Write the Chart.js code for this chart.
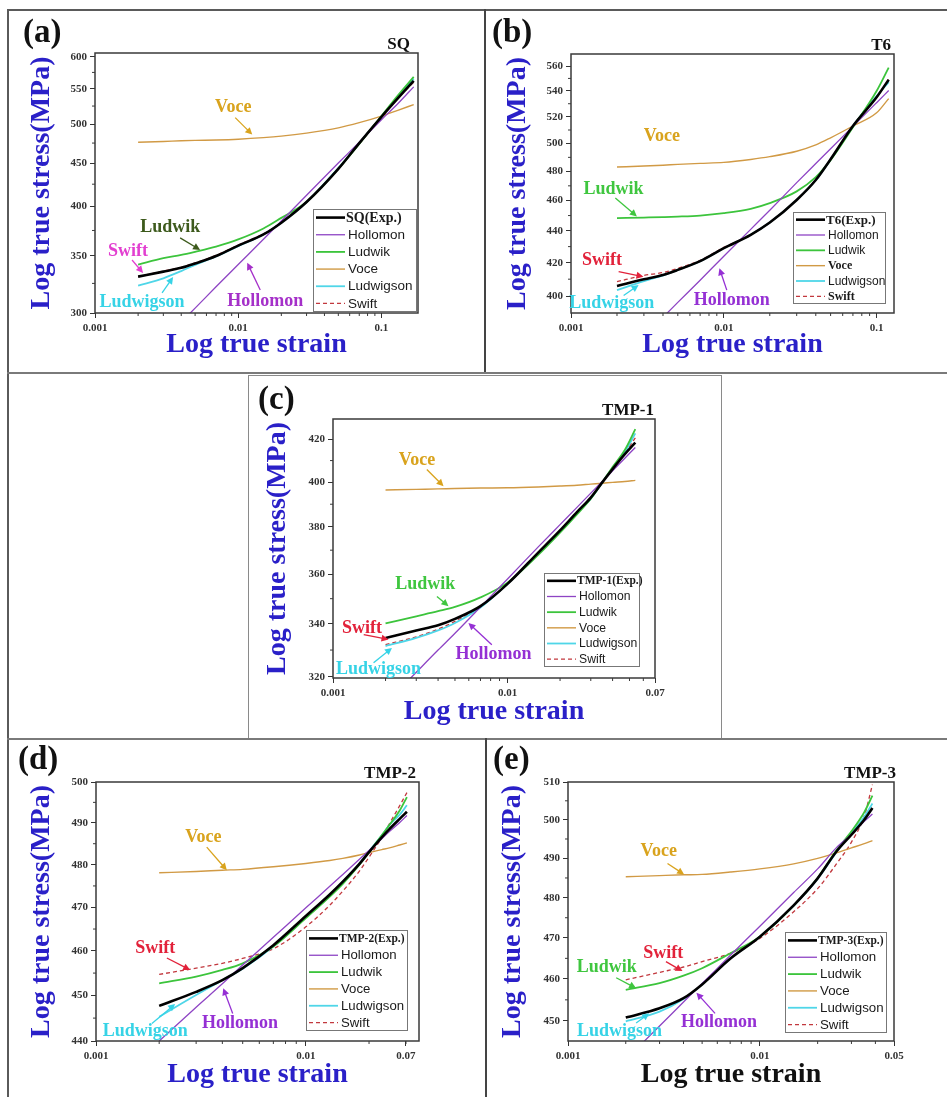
<!DOCTYPE html>
<html>
<head>
<meta charset="utf-8">
<script src="https://cdn.jsdelivr.net/npm/chart.js@4.4.1/dist/chart.umd.min.js"></script>
<style>
body{margin:0;background:#fff;}
#page{position:relative;width:947px;height:1097px;overflow:hidden;background:#fff;}
.ln{position:absolute;background:#5a5a5a;}
#boxC{position:absolute;left:248px;top:375px;width:472px;height:362px;border:1.5px solid #8a8a8a;border-bottom:none;}
canvas{position:absolute;}
</style>
</head>
<body>
<div id="page">
  <div class="ln" style="left:7px;top:9px;width:2px;height:1088px"></div>
  <div class="ln" style="left:7px;top:9px;width:940px;height:2px"></div>
  <div class="ln" style="left:484px;top:9px;width:2px;height:364px;background:#444"></div>
  <div class="ln" style="left:7px;top:372px;width:940px;height:2px;background:#7a7a7a"></div>
  <div id="boxC"></div>
  <div class="ln" style="left:7px;top:738px;width:940px;height:2px;background:#7a7a7a"></div>
  <div class="ln" style="left:485px;top:738px;width:2px;height:359px;background:#444"></div>

  <canvas id="cA" width="470" height="356" style="left:10px;top:12px"></canvas>
  <canvas id="cB" width="455" height="356" style="left:488px;top:12px"></canvas>
  <canvas id="cC" width="468" height="358" style="left:250px;top:377px"></canvas>
  <canvas id="cD" width="470" height="353" style="left:10px;top:742px"></canvas>
  <canvas id="cE" width="455" height="353" style="left:490px;top:742px"></canvas>
</div>
<script>
//DATA

//(a) SQ
var strainSQ = [0.002, 0.003, 0.004, 0.005, 0.007, 0.01, 0.015, 0.02, 0.03, 0.05, 0.07, 0.1, 0.13, 0.168];
var expSQ = [331, 335.5, 339, 343, 350, 360, 371, 383, 405, 443, 475, 510, 536, 562];
var hollomonSQ = [260, 278.7, 292.7, 304, 322, 342, 366.2, 384.7, 412.4, 450, 476, 506, 528.3, 553];
var ludwikSQ = [342, 348, 351, 354, 359, 366, 377, 388, 405, 443, 474, 511, 540, 568];
var voceSQ = [476, 477, 478, 478.5, 479, 480, 482, 484, 488, 495, 502, 511, 519, 527];
var ludwigsonSQ = [323, 329.5, 336, 341.7, 349.5, 359.5, 371, 383, 405, 444, 475, 510, 538, 565];
var swiftSQ = [331, 336, 339.5, 343.5, 350.5, 360.5, 371.5, 383.5, 405, 444, 474, 509, 536, 560];
var stressTicksSQ = [300, 350, 400, 450, 500, 550, 600];
var strainTicksSQ = [0.001, 0.01, 0.1];
var strainLabelsSQ = ['0.001', '0.01', '0.1'];

//(b) T6
var strainT6 = [0.002, 0.003, 0.004, 0.005, 0.007, 0.01, 0.015, 0.02, 0.03, 0.04, 0.05, 0.07, 0.1, 0.12];
var expT6 = [405.9, 409.9, 412.5, 415.6, 421, 429, 437.5, 445.4, 460.4, 474, 488.6, 513, 535, 549];
var hollomonT6 = [362.6, 377.1, 387.8, 396.3, 409.4, 424, 441, 453.5, 472.2, 485.6, 496.2, 512.7, 530.8, 540.3];
var ludwikT6 = [448.3, 448.7, 449, 449.3, 450, 451.6, 454.5, 458.3, 466.2, 476, 488, 512, 540, 558.8];
var voceT6 = [483.1, 483.8, 484.4, 485, 485.7, 486.4, 488.5, 490.5, 494.4, 499, 504.2, 513, 523, 534];
var ludwigsonT6 = [403.5, 408.8, 412.3, 415.6, 421, 429, 437.5, 445.4, 460.4, 474, 488.5, 513, 536, 547];
var swiftT6 = [408.5, 412.3, 414, 416.5, 421.5, 429.5, 437.5, 445.4, 460.4, 474, 488.6, 513, 535, 549];
var stressTicksT6 = [400, 420, 440, 460, 480, 500, 520, 540, 560];
var strainTicksT6 = [0.001, 0.01, 0.1];
var strainLabelsT6 = ['0.001', '0.01', '0.1'];

//(c) TMP-1
var strainTMP1 = [0.002, 0.003, 0.004, 0.005, 0.007, 0.01, 0.015, 0.02, 0.025, 0.03, 0.035, 0.04, 0.047, 0.054];
var expTMP1 = [334.6, 337.5, 339.5, 342, 347, 356, 369, 378.5, 386.5, 393, 400, 406, 413, 418.5];
var hollomonTMP1 = [310.3, 321.7, 330, 336.4, 346.7, 358, 371.4, 381, 388.6, 395, 400.4, 405.2, 411.1, 416.2];
var ludwikTMP1 = [340.2, 343, 345, 346.7, 350.5, 356.5, 368, 377.5, 385.5, 392.5, 400, 407, 415, 425];
var voceTMP1 = [396.4, 396.7, 396.9, 397.1, 397.3, 397.4, 397.8, 398.2, 398.6, 399.1, 399.5, 399.9, 400.3, 400.8];
var ludwigsonTMP1 = [331.5, 334.6, 337.5, 340.4, 346.5, 356, 368.5, 378, 386, 392.5, 400, 406.5, 414, 423];
var swiftTMP1 = [332.1, 335, 338, 341, 346.8, 356, 369, 378.5, 386.5, 393, 400, 406, 413.5, 420.8];
var stressTicksTMP1 = [320, 340, 360, 380, 400, 420];
var strainTicksTMP1 = [0.001, 0.01, 0.07];
var strainLabelsTMP1 = ['0.001', '0.01', '0.07'];

//(d) TMP-2  (the source axis is not log-uniform past 0.01: its last tick sits where 0.03 would be, printed 0.07)
var strainTMP2 = [0.002, 0.003, 0.004, 0.005, 0.007, 0.01, 0.013, 0.015, 0.018, 0.02, 0.023, 0.025, 0.028, 0.0303];
var expTMP2 = [447.7, 450.8, 453.4, 456.1, 461.3, 468, 473, 476, 480.2, 483, 486.5, 488.5, 491, 492.7];
var hollomonTMP2 = [440, 447.4, 452.6, 456.8, 463.1, 469.9, 474.9, 477.7, 481.3, 483.4, 486.2, 487.9, 490.1, 491.8];
var ludwikTMP2 = [452.7, 454.2, 455.7, 457.2, 461, 467.5, 472.5, 475.5, 480, 483, 487, 489.5, 493, 496.3];
var voceTMP2 = [478.1, 478.4, 478.7, 478.9, 479.5, 480.3, 481, 481.5, 482.3, 482.9, 483.6, 484, 484.7, 485.2];
var ludwigsonTMP2 = [445.3, 450.1, 453.4, 456, 461, 467.8, 473, 476, 480.3, 483.2, 487, 489.5, 492, 494.3];
var swiftTMP2 = [454.7, 456.1, 457.2, 458.3, 460.5, 465.5, 470.5, 473.8, 478.5, 481.8, 486.5, 489.8, 494.2, 497.4];
var stressTicksTMP2 = [440, 450, 460, 470, 480, 490, 500];
var strainTicksTMP2 = [0.001, 0.01, 0.03];
var strainLabelsTMP2 = ['0.001', '0.01', '0.07'];

//(e) TMP-3
var strainTMP3 = [0.002, 0.003, 0.004, 0.005, 0.007, 0.01, 0.015, 0.02, 0.025, 0.03, 0.035, 0.0386];
var expTMP3 = [450.8, 453, 455.4, 458.7, 464.9, 470.3, 478.1, 484.9, 491.7, 496.1, 500, 503.1];
var hollomonTMP3 = [441, 448.8, 454.5, 458.9, 465.7, 472.9, 481.3, 487.3, 492.7, 496.2, 499.6, 501.5];
var ludwikTMP3 = [457.4, 459, 460.8, 462.6, 466.2, 470.3, 478, 485, 492, 497, 502, 506.4];
var voceTMP3 = [485.3, 485.6, 485.8, 485.9, 486.5, 487.3, 488.6, 490, 491.4, 492.7, 493.8, 494.6];
var ludwigsonTMP3 = [449.9, 452.2, 455.2, 458.7, 464.9, 470.3, 478, 484.8, 491.5, 496.5, 500.8, 504.3];
var swiftTMP3 = [459.8, 461.6, 462.9, 464.2, 466.2, 469.9, 476.5, 482.3, 488.5, 494.2, 501, 509.3];
var stressTicksTMP3 = [450, 460, 470, 480, 490, 500, 510];
var strainTicksTMP3 = [0.001, 0.01, 0.05];
var strainLabelsTMP3 = ['0.001', '0.01', '0.05'];

var modelNames = ['Hollomon', 'Ludwik', 'Voce', 'Ludwigson', 'Swift'];

//STYLE
var modelColors = ['#8e44c4', '#3cc43c', '#d19a45', '#4fd6e8', '#c2383e'];
var modelWidths = [1.3, 1.8, 1.4, 1.8, 1.3];
var SERIF = '"Liberation Serif", "Times New Roman", serif';
var SANS = '"Liberation Sans", Arial, sans-serif';
var TITLE_BLUE = '#2a20c8';
var C_VOCE = '#d9a31d', C_LUDWIK = '#3fc63f', C_SWIFT = '#e2223a', C_LUDWIGSON = '#36d3e6', C_HOLLOMON = '#9530d4';

Chart.defaults.font.family = SERIF;
Chart.defaults.color = '#222';

var panels = [
    {
        id: 'cA', letter: '(a)', letterAt: [13, 30], name: 'SQ', nameDx: -8,
        strain: strainSQ, exp: expSQ, models: [hollomonSQ, ludwikSQ, voceSQ, ludwigsonSQ, swiftSQ],
        yTicks: stressTicksSQ, yMin: 300, yMax: 606,
        xTicks: strainTicksSQ, xLabels: strainLabelsSQ, xMax: 0.18,
        yAxisW: 85, xAxisH: 55, padTop: 41, padRight: 62, yTitlePad: 18, xTitlePad: 9, xTitleColor: TITLE_BLUE,
        legend: {r: 1, b: 1, w: 104, h: 103, head: 14, fs: 13.5, bold: []},
        notes: [
            {t: 'Voce', c: C_VOCE, at: [0.00923, 522.6], from: [0.00953, 508.8], to: [0.01253, 486]},
            {t: 'Ludwik', c: '#3d5a1c', at: [0.00335, 378.6], from: [0.00393, 367.6], to: [0.00542, 355.8]},
            {t: 'Swift', c: '#e23fd0', at: [0.0017, 354.9], from: [0.001814, 346.2], to: [0.002166, 334.3]},
            {t: 'Ludwigson', c: C_LUDWIGSON, at: [0.00213, 309], from: [0.00294, 316.7], to: [0.00351, 330.7]},
            {t: 'Hollomon', c: '#a530c9', at: [0.01545, 309.8], from: [0.01425, 319.3], to: [0.01156, 343.6]}
        ]
    },
    {
        id: 'cB', letter: '(b)', letterAt: [4, 30], name: 'T6', nameDx: -3,
        strain: strainT6, exp: expT6, models: [hollomonT6, ludwikT6, voceT6, ludwigsonT6, swiftT6],
        yTicks: stressTicksT6, yMin: 390.2, yMax: 570,
        xTicks: strainTicksT6, xLabels: strainLabelsT6, xMax: 0.13,
        yAxisW: 83, xAxisH: 55, padTop: 42, padRight: 49, yTitlePad: 16, xTitlePad: 9, xTitleColor: TITLE_BLUE,
        legend: {r: 8, b: 9, w: 93, h: 92, head: 13, fs: 12, bold: [3, 5]},
        notes: [
            {t: 'Voce', c: C_VOCE, at: [0.00393, 505.3]},
            {t: 'Ludwik', c: C_LUDWIK, at: [0.0019, 467.8], from: [0.00195, 461.7], to: [0.0027, 449.4]},
            {t: 'Swift', c: C_SWIFT, at: [0.001595, 421.7], from: [0.00205, 414.5], to: [0.00298, 411.5]},
            {t: 'Ludwigson', c: C_LUDWIGSON, at: [0.00185, 395.7], from: [0.00221, 400.3], to: [0.00277, 406.5]},
            {t: 'Hollomon', c: C_HOLLOMON, at: [0.01128, 397.7], from: [0.01046, 403.5], to: [0.00936, 416.6]}
        ]
    },
    {
        id: 'cC', letter: '(c)', letterAt: [8, 32], name: 'TMP-1', nameDx: -1,
        strain: strainTMP1, exp: expTMP1, models: [hollomonTMP1, ludwikTMP1, voceTMP1, ludwigsonTMP1, swiftTMP1],
        yTicks: stressTicksTMP1, yMin: 319.6, yMax: 430,
        xTicks: strainTicksTMP1, xLabels: strainLabelsTMP1, xMax: 0.07,
        yAxisW: 83, xAxisH: 57, padTop: 42, padRight: 63, yTitlePad: 14, xTitlePad: 9, xTitleColor: TITLE_BLUE,
        legend: {r: 15, b: 11, w: 96, h: 94, head: 11.5, fs: 12.2, bold: []},
        notes: [
            {t: 'Voce', c: C_VOCE, at: [0.00303, 410.1], from: [0.00345, 405.8], to: [0.0043, 398.1]},
            {t: 'Ludwik', c: C_LUDWIK, at: [0.00338, 355.7], from: [0.00394, 350.9], to: [0.00459, 347]},
            {t: 'Swift', c: C_SWIFT, at: [0.001466, 338.5], from: [0.0015, 335.9], to: [0.00208, 334]},
            {t: 'Ludwigson', c: C_LUDWIGSON, at: [0.001824, 322.9], from: [0.001708, 325.2], to: [0.002177, 330.8]},
            {t: 'Hollomon', c: C_HOLLOMON, at: [0.0083, 328.3], from: [0.00813, 332], to: [0.00597, 340.4]}
        ]
    },
    {
        id: 'cD', letter: '(d)', letterAt: [8, 27], name: 'TMP-2', nameDx: -3,
        strain: strainTMP2, exp: expTMP2, models: [hollomonTMP2, ludwikTMP2, voceTMP2, ludwigsonTMP2, swiftTMP2],
        yTicks: stressTicksTMP2, yMin: 440, yMax: 500,
        xTicks: strainTicksTMP2, xLabels: strainLabelsTMP2, xMax: 0.0346,
        yAxisW: 86, xAxisH: 54, padTop: 40, padRight: 61, yTitlePad: 18, xTitlePad: 6, xTitleColor: TITLE_BLUE,
        legend: {r: 11, b: 10, w: 102, h: 101, head: 11.5, fs: 13.2, bold: []},
        notes: [
            {t: 'Voce', c: C_VOCE, at: [0.00325, 486.6], from: [0.00337, 484.2], to: [0.0042, 478.7]},
            {t: 'Swift', c: C_SWIFT, at: [0.001914, 460.6], from: [0.002176, 458.4], to: [0.00281, 455.7]},
            {t: 'Ludwigson', c: C_LUDWIGSON, at: [0.001716, 442.2], from: [0.001846, 443.8], to: [0.002383, 448.1]},
            {t: 'Hollomon', c: C_HOLLOMON, at: [0.00486, 443.8], from: [0.00448, 446], to: [0.00404, 451.6]}
        ]
    },
    {
        id: 'cE', letter: '(e)', letterAt: [3, 27], name: 'TMP-3', nameDx: 2,
        strain: strainTMP3, exp: expTMP3, models: [hollomonTMP3, ludwikTMP3, voceTMP3, ludwigsonTMP3, swiftTMP3],
        yTicks: stressTicksTMP3, yMin: 445.3, yMax: 510,
        xTicks: strainTicksTMP3, xLabels: strainLabelsTMP3, xMax: 0.05,
        yAxisW: 78, xAxisH: 54, padTop: 40, padRight: 51, yTitlePad: 9, xTitlePad: 6, xTitleColor: '#111',
        legend: {r: 7, b: 8, w: 102, h: 101, head: 11.5, fs: 13.3, bold: []},
        notes: [
            {t: 'Voce', c: C_VOCE, at: [0.00297, 491.8], from: [0.0033, 488.7], to: [0.00403, 485.9]},
            {t: 'Swift', c: C_SWIFT, at: [0.00314, 466.2], from: [0.00324, 464.2], to: [0.00395, 461.9]},
            {t: 'Ludwik', c: C_LUDWIK, at: [0.001594, 462.8], from: [0.001783, 460.3], to: [0.002265, 457.8]},
            {t: 'Ludwigson', c: C_LUDWIGSON, at: [0.001855, 447.6], from: [0.002265, 449.5], to: [0.00265, 451.8]},
            {t: 'Hollomon', c: C_HOLLOMON, at: [0.00613, 449.7], from: [0.00584, 451.8], to: [0.00467, 456.7]}
        ]
    }
];

function pts(xs, ys){
    return xs.map(function(x, i){ return {x: x, y: ys[i]}; });
}

function minorLog(min, max){
    var out = [];
    for(var d = 0.001; d < max; d *= 10){
        for(var k = 2; k < 10; k++){
            var v = k * d;
            if(v > min * 1.0001 && v < max * 0.999) out.push(v);
        }
    }
    return out;
}

function seg(ctx, x1, y1, x2, y2){
    ctx.beginPath(); ctx.moveTo(x1, y1); ctx.lineTo(x2, y2); ctx.stroke();
}

function arrow(ctx, x1, y1, x2, y2, col){
    var ang = Math.atan2(y2 - y1, x2 - x1), L = 7, W = 3.5;
    ctx.strokeStyle = col; ctx.fillStyle = col; ctx.lineWidth = 1.3;
    seg(ctx, x1, y1, x2 - Math.cos(ang) * L * 0.8, y2 - Math.sin(ang) * L * 0.8);
    ctx.beginPath();
    ctx.moveTo(x2, y2);
    ctx.lineTo(x2 - Math.cos(ang) * L - Math.sin(ang) * W, y2 - Math.sin(ang) * L + Math.cos(ang) * W);
    ctx.lineTo(x2 - Math.cos(ang) * L + Math.sin(ang) * W, y2 - Math.sin(ang) * L - Math.cos(ang) * W);
    ctx.closePath(); ctx.fill();
}

function makeDecor(p){
    return {
        id: 'decor',
        afterDatasetsDraw: function(chart){
            var ctx = chart.ctx, a = chart.chartArea, xs = chart.scales.x, ys = chart.scales.y;
            ctx.save();
            //frame
            ctx.strokeStyle = '#3a3a3a'; ctx.lineWidth = 1.5;
            ctx.strokeRect(a.left, a.top, a.right - a.left, a.bottom - a.top);
            //minor ticks
            ctx.lineWidth = 1;
            minorLog(0.001, p.xMax).forEach(function(v){
                var px = xs.getPixelForValue(v);
                seg(ctx, px, a.bottom, px, a.bottom + 3);
            });
            for(var i = 0; i < p.yTicks.length - 1; i++){
                var py = ys.getPixelForValue((p.yTicks[i] + p.yTicks[i + 1]) / 2);
                seg(ctx, a.left - 3, py, a.left, py);
            }
            //panel letter and sample name
            ctx.fillStyle = '#111';
            ctx.textBaseline = 'alphabetic';
            ctx.textAlign = 'left';
            ctx.font = 'bold 33px ' + SERIF;
            ctx.fillText(p.letter, p.letterAt[0], p.letterAt[1]);
            ctx.textAlign = 'right';
            ctx.font = 'bold 17px ' + SERIF;
            ctx.fillText(p.name, a.right + p.nameDx, a.top - 4);
            //labels with arrows
            p.notes.forEach(function(n){
                if(n.from){
                    arrow(ctx, xs.getPixelForValue(n.from[0]), ys.getPixelForValue(n.from[1]),
                        xs.getPixelForValue(n.to[0]), ys.getPixelForValue(n.to[1]), n.c);
                }
                ctx.fillStyle = n.c;
                ctx.font = 'bold 18px ' + SERIF;
                ctx.textAlign = 'center'; ctx.textBaseline = 'middle';
                ctx.fillText(n.t, xs.getPixelForValue(n.at[0]), ys.getPixelForValue(n.at[1]));
            });
            //legend box
            var L = p.legend;
            var bx = a.right - L.r - L.w, by = a.bottom - L.b - L.h, rh = L.h / 6;
            ctx.fillStyle = '#fff'; ctx.fillRect(bx, by, L.w, L.h);
            ctx.strokeStyle = '#777'; ctx.lineWidth = 1;
            ctx.strokeRect(bx + 0.5, by + 0.5, L.w - 1, L.h - 1);
            chart.data.datasets.forEach(function(ds, k){
                var cy = by + rh * (k + 0.5);
                ctx.strokeStyle = ds.borderColor; ctx.lineWidth = ds.borderWidth;
                ctx.setLineDash(ds.borderDash || []);
                seg(ctx, bx + 3, cy, bx + 32, cy);
                ctx.setLineDash([]);
                ctx.fillStyle = '#1a1a1a';
                ctx.textAlign = 'left'; ctx.textBaseline = 'middle';
                if(k === 0) ctx.font = 'bold ' + L.head + 'px ' + SERIF;
                else if(L.bold.indexOf(k) >= 0) ctx.font = 'bold 12px ' + SERIF;
                else ctx.font = L.fs + 'px ' + SANS;
                ctx.fillText(ds.label, bx + (k === 0 ? 33 : 35), cy + 0.5);
            });
            ctx.restore();
        }
    };
}

function build(p){
    var datasets = [{
        label: p.name + '(Exp.)', data: pts(p.strain, p.exp),
        borderColor: '#000', borderWidth: 2.6
    }];
    p.models.forEach(function(m, i){
        datasets.push({
            label: modelNames[i], data: pts(p.strain, m),
            borderColor: modelColors[i], borderWidth: modelWidths[i],
            borderDash: i === 4 ? [4, 3] : []
        });
    });

    new Chart(document.getElementById(p.id), {
        type: 'line',
        data: {datasets: datasets},
        options: {
            responsive: false,
            animation: false,
            events: [],
            layout: {padding: {left: 0, top: p.padTop, right: p.padRight, bottom: 0}},
            elements: {
                point: {radius: 0},
                line: {cubicInterpolationMode: 'monotone', fill: false}
            },
            plugins: {legend: {display: false}, tooltip: {enabled: false}},
            scales: {
                x: {
                    type: 'logarithmic', min: 0.001, max: p.xMax,
                    afterBuildTicks: function(s){ s.ticks = p.xTicks.map(function(v){ return {value: v}; }); },
                    afterFit: function(s){ s.height = p.xAxisH; },
                    ticks: {
                        autoSkip: false, maxRotation: 0, padding: 4, color: '#333',
                        font: {size: 11, weight: 'bold'},
                        callback: function(v, i){ return p.xLabels[i]; }
                    },
                    grid: {display: true, drawOnChartArea: false, drawTicks: true, tickLength: 5, tickColor: '#333'},
                    border: {display: false},
                    title: {
                        display: true, text: 'Log true strain', color: p.xTitleColor,
                        font: {size: 28, weight: 'bold', lineHeight: 1},
                        padding: {top: 0, bottom: p.xTitlePad}
                    }
                },
                y: {
                    type: 'logarithmic', min: p.yMin, max: p.yMax,
                    afterBuildTicks: function(s){ s.ticks = p.yTicks.map(function(v){ return {value: v}; }); },
                    afterFit: function(s){ s.width = p.yAxisW; },
                    ticks: {
                        autoSkip: false, padding: 3, color: '#333',
                        font: {size: 11, weight: 'bold'},
                        callback: function(v){ return String(v); }
                    },
                    grid: {display: true, drawOnChartArea: false, drawTicks: true, tickLength: 5, tickColor: '#333'},
                    border: {display: false},
                    title: {
                        display: true, text: 'Log true stress(MPa)', color: TITLE_BLUE,
                        font: {size: 28, weight: 'bold', lineHeight: 1},
                        padding: {top: p.yTitlePad, bottom: 0}
                    }
                }
            }
        },
        plugins: [makeDecor(p)]
    });
}

panels.forEach(build);
</script>
</body>
</html>
